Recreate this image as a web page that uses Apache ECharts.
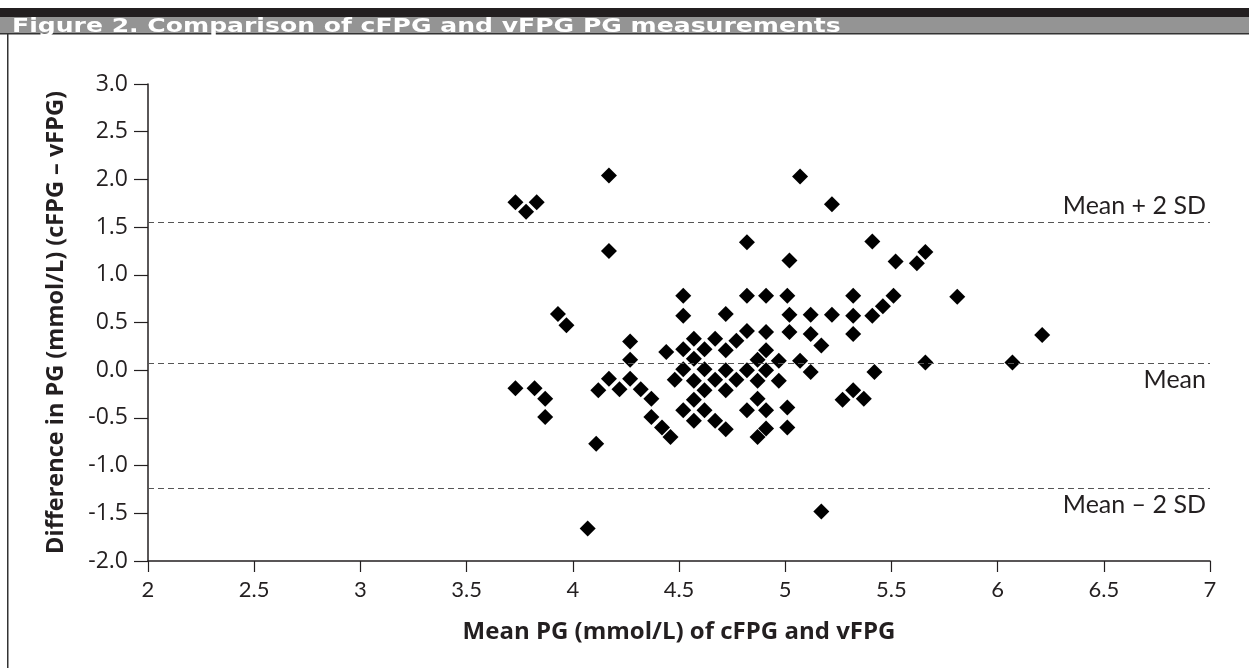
<!DOCTYPE html>
<html>
<head>
<meta charset="utf-8">
<script src="https://cdn.jsdelivr.net/npm/echarts@6/dist/echarts.min.js"></script>
<style>
html,body{margin:0;padding:0;background:#fff;}
#c{width:1249px;height:668px;}
</style>
</head>
<body>
<div id="c"></div>
<script>
// Mean PG (x) and difference (y) for each participant
const meanPG = [
 3.73,3.78,3.83,4.17,4.17,3.93,3.97,3.73,3.82,3.87,3.87,4.11,4.07,
 4.12,4.17,4.22,4.27,4.27,4.27,4.32,4.37,4.37,4.42,4.46,4.44,4.48,
 4.52,4.52,4.52,4.52,4.52,4.57,4.57,4.57,4.57,4.57,
 4.62,4.62,4.62,4.62,4.67,4.67,4.67,
 4.72,4.72,4.72,4.72,4.72,4.77,4.77,
 4.82,4.82,4.82,4.82,4.82,4.87,4.87,4.87,4.87,
 4.91,4.91,4.91,4.91,4.91,4.91,4.97,4.97,
 5.01,5.02,5.02,5.01,5.01,5.07,5.07,5.12,5.12,5.12,5.17,5.17,
 5.22,5.22,5.27,5.32,5.32,5.32,5.32,5.37,5.41,5.41,5.42,5.46,
 5.51,5.52,5.62,5.66,5.66,5.81,6.07,6.21,5.02
];
const diffPG = [
 1.76,1.66,1.76,2.04,1.25,0.59,0.47,-0.19,-0.19,-0.30,-0.49,-0.77,-1.66,
 -0.21,-0.09,-0.20,-0.09,0.30,0.11,-0.20,-0.30,-0.49,-0.60,-0.70,0.19,-0.10,
 0.78,0.57,0.22,0.01,-0.42,0.33,0.12,-0.11,-0.31,-0.53,
 0.22,0.01,-0.21,-0.42,0.33,-0.10,-0.53,
 0.59,0.21,0.00,-0.21,-0.62,0.31,-0.10,
 1.34,0.78,0.41,0.00,-0.42,0.11,-0.11,-0.30,-0.70,
 0.78,0.40,0.21,0.00,-0.42,-0.61,0.10,-0.11,
 0.78,0.58,0.40,-0.39,-0.60,2.03,0.10,0.58,0.38,-0.02,0.26,-1.48,
 1.74,0.58,-0.31,0.78,0.57,0.38,-0.21,-0.30,1.35,0.57,-0.02,0.67,
 0.78,1.14,1.12,1.24,0.08,0.77,0.08,0.37,1.15
];
// Reference lines (mean and limits of agreement)
const refValues = [1.55, 0.065, -1.235];
const refLabels = ['Mean + 2 SD', 'Mean', 'Mean \u2013 2 SD'];
const refLabelPos = ['insideEndTop', 'insideEndBottom', 'insideEndBottom'];

const titleText = 'Figure 2. Comparison of cFPG and vFPG PG measurements';
const xName = 'Mean PG (mmol/L) of cFPG and vFPG';
const yName = 'Difference in PG (mmol/L) (cFPG \u2013 vFPG)';

const points = meanPG.map((x, i) => [x, diffPG[i]]);

const chart = echarts.init(document.getElementById('c'), null, {renderer: 'canvas'});
chart.setOption({
  animation: false,
  backgroundColor: '#fff',
  graphic: [
    {type: 'rect', shape: {x: 0, y: 8, width: 1249, height: 9}, style: {fill: '#231f20'}},
    {type: 'rect', shape: {x: 0, y: 17, width: 1249, height: 16}, style: {fill: '#949494'}},
    {type: 'rect', shape: {x: 0, y: 33, width: 1249, height: 1.5}, style: {fill: '#333'}},
    {type: 'rect', shape: {x: 7, y: 33, width: 1.5, height: 640}, style: {fill: '#333'}},
    {type: 'text', x: 12, y: 27, scaleX: 1.32, z: 10,
      style: {x: 0, y: 0, text: titleText, fill: '#fff', verticalAlign: 'middle',
        font: 'bold 19px "DejaVu Sans"'}}
  ],
  grid: {left: 148, right: 39, top: 84, bottom: 107, containLabel: false},
  xAxis: {
    type: 'value', min: 2, max: 7, interval: 0.5,
    name: xName, nameLocation: 'middle', nameGap: 59,
    nameTextStyle: {fontFamily: 'Open Sans', fontWeight: 'bold', fontSize: 24, color: '#231f20'},
    axisLine: {show: true, onZero: false, lineStyle: {color: '#231f20', width: 1.5}},
    axisTick: {show: true, length: 11, lineStyle: {color: '#231f20', width: 1.2}},
    axisLabel: {fontFamily: 'Lato', fontSize: 22, color: '#231f20', margin: 18},
    splitLine: {show: false}
  },
  yAxis: {
    type: 'value', min: -2, max: 3, interval: 0.5,
    name: yName, nameLocation: 'middle', nameGap: 80, nameRotate: 90,
    nameTextStyle: {fontFamily: 'Open Sans', fontWeight: 'bold', fontSize: 23.5, color: '#231f20'},
    axisLine: {show: true, onZero: false, lineStyle: {color: '#231f20', width: 1.5}},
    axisTick: {show: true, length: 14, lineStyle: {color: '#231f20', width: 1.2}},
    axisLabel: {fontFamily: 'Open Sans', fontSize: 23, color: '#231f20', margin: 20,
      formatter: v => v.toFixed(1)},
    splitLine: {show: false}
  },
  series: [{
    type: 'scatter',
    data: points,
    symbol: 'diamond',
    symbolSize: 16,
    itemStyle: {color: '#000', opacity: 1},
    markLine: {
      silent: true,
      symbol: 'none',
      lineStyle: {type: [6, 4], color: '#555', width: 1},
      data: refValues.map((v, i) => ({
        yAxis: v,
        label: {show: true, formatter: refLabels[i], position: refLabelPos[i],
          fontFamily: 'Lato', fontSize: 25, color: '#231f20', distance: 4}
      }))
    }
  }]
});
</script>
</body>
</html>
